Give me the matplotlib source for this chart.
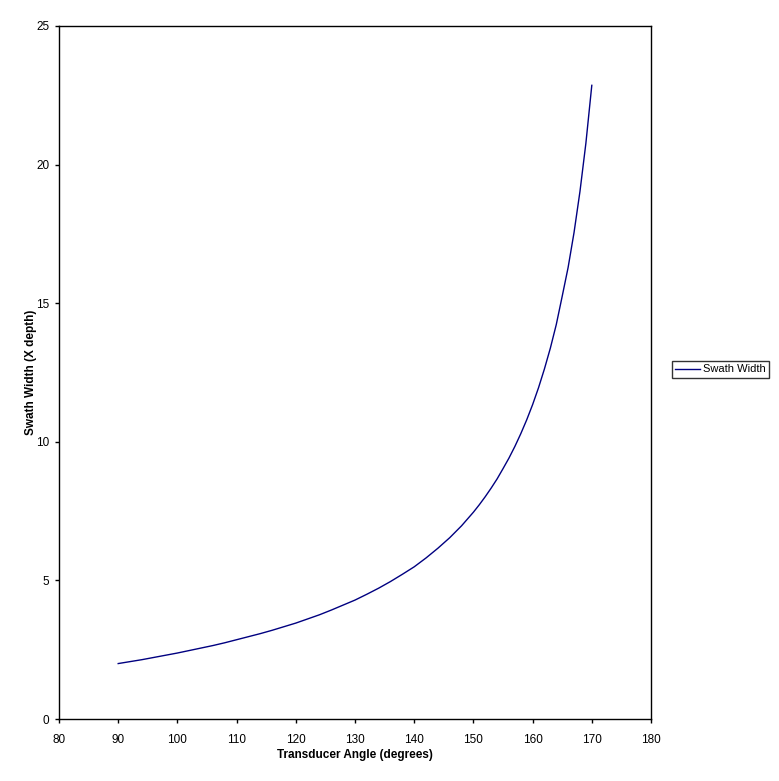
import matplotlib
matplotlib.use("Agg")
import matplotlib.pyplot as plt

angles = [90, 92, 94, 96, 98, 100, 102, 104, 106, 108, 110, 112, 114, 116, 118, 120,
          122, 124, 126, 128, 130, 132, 134, 136, 138, 140, 142, 144, 146, 148, 150,
          151, 152, 153, 154, 155, 156, 157, 158, 159, 160, 161, 162, 163, 164, 165,
          166, 167, 168, 169, 170]
swath = [2.00, 2.07, 2.14, 2.22, 2.30, 2.38, 2.47, 2.56, 2.65, 2.75, 2.86, 2.97, 3.08,
         3.20, 3.33, 3.46, 3.61, 3.76, 3.93, 4.11, 4.29, 4.50, 4.72, 4.96, 5.22, 5.49,
         5.81, 6.16, 6.54, 6.97, 7.46, 7.73, 8.02, 8.33, 8.66, 9.03, 9.41, 9.83, 10.29,
         10.79, 11.34, 11.95, 12.63, 13.38, 14.23, 15.25, 16.29, 17.55, 19.03, 20.77, 22.86]

plt.rcParams['font.family'] = ['Liberation Sans', 'DejaVu Sans']
fig = plt.figure(figsize=(7.79, 7.81), dpi=100)
ax = fig.add_axes([59/779, 62/781, 592/779, 693/781])
ax.plot(angles, swath, color='#000080', lw=1.0, label='Swath Width')
ax.set_xlim(80, 180)
ax.set_ylim(0, 25)
ax.set_xticks(range(80, 181, 10))
ax.set_yticks(range(0, 26, 5))
ax.tick_params(direction='out', length=3, width=1, labelsize=8.5, pad=4)
ax.tick_params(axis='x', pad=8)
for s in ax.spines.values():
    s.set_linewidth(1.0)
ax.set_xlabel('Transducer Angle (degrees)', fontsize=8.5, fontweight='bold', labelpad=2)
ax.set_ylabel('Swath Width (X depth)', fontsize=8.5, fontweight='bold', labelpad=-1)
leg = ax.legend(loc='center left', bbox_to_anchor=(672/779, (781 - 369.5)/781),
                bbox_transform=fig.transFigure,
                fontsize=8, frameon=True, fancybox=False, edgecolor='black', handlelength=2.2,
                borderpad=0.3, borderaxespad=0, handletextpad=0.3)
leg.get_frame().set_linewidth(1.0)
fig.savefig('out.png', dpi=100)
